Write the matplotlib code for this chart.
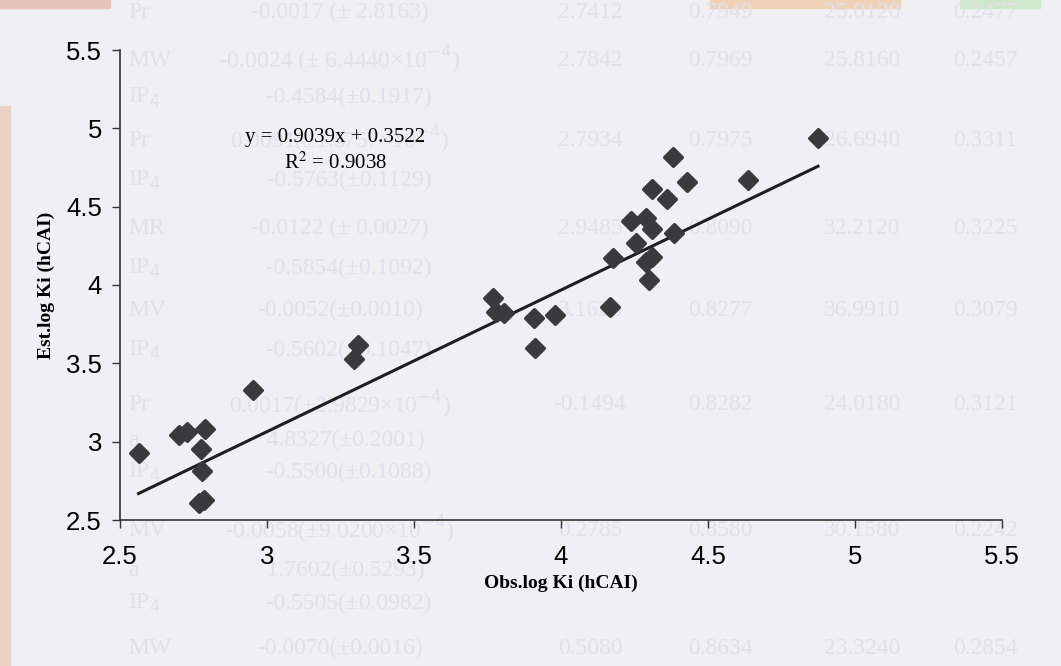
import numpy as np
import matplotlib.pyplot as plt
from matplotlib.markers import MarkerStyle

obs_logki = [2.563, 2.70, 2.728, 2.79, 2.775, 2.78, 2.77, 2.785, 2.952,
             3.31, 3.296, 3.77, 3.78, 3.806, 3.908, 3.91, 3.98,
             4.167, 4.177, 4.255, 4.238, 4.29, 4.31, 4.384, 4.29, 4.31,
             4.30, 4.31, 4.36, 4.38, 4.43, 4.636, 4.874]
est_logki = [2.93, 3.04, 3.06, 3.08, 2.95, 2.81, 2.61, 2.63, 3.33,
             3.62, 3.53, 3.92, 3.83, 3.82, 3.79, 3.60, 3.81,
             3.86, 4.17, 4.27, 4.41, 4.43, 4.36, 4.33, 4.15, 4.18,
             4.03, 4.61, 4.55, 4.82, 4.66, 4.67, 4.94]

slope = 0.9039
intercept = 0.3522
r2 = 0.9038

ticks = [2.5, 3, 3.5, 4, 4.5, 5, 5.5]
tick_labels = ["2.5", "3", "3.5", "4", "4.5", "5", "5.5"]

# faint table text showing through the page
ghost_rows = [
    ("Pr", "-0.0017 (± 2.8163)", "2.7412", "0.7949", "25.0120", "0.2477"),
    ("MW", "-0.0024 (± 6.4440×10$^{-4}$)", "2.7842", "0.7969", "25.8160", "0.2457"),
    ("IP$_4$", "   -0.4584(±0.1917)", "", "", "", ""),
    ("Pr", "0.0091(±1.5757×10$^{-4}$)", "2.7934", "0.7975", "26.6940", "0.3311"),
    ("IP$_4$", "   -0.5763(±0.1129)", "", "", "", ""),
    ("MR", "-0.0122 (± 0.0027)", "2.9485", "0.8090", "32.2120", "0.3225"),
    ("IP$_4$", "   -0.5854(±0.1092)", "", "", "", ""),
    ("MV", "-0.0052(±0.0010)", "3.1625", "0.8277", "36.9910", "0.3079"),
    ("IP$_4$", "   -0.5602(±0.1047)", "", "", "", ""),
    ("Pr", "0.0017(±2.9829×10$^{-4}$)", "-0.1494", "0.8282", "24.0180", "0.3121"),
    ("a", "  4.8327(±0.2001)", "", "", "", ""),
    ("IP$_4$", "   -0.5500(±0.1088)", "", "", "", ""),
    ("MV", "-0.0058(±9.0200×10$^{-4}$)", "0.2785", "0.8580", "30.1580", "0.2242"),
    ("a", "  1.7602(±0.5293)", "", "", "", ""),
    ("IP$_4$", "   -0.5505(±0.0982)", "", "", "", ""),
    ("MW", "-0.0070(±0.0016)", "0.5080", "0.8634", "23.3240", "0.2854"),
]
ghost_y = [12, 60, 97, 140, 180, 228, 268, 310, 350, 405, 440, 472, 530, 570, 603, 648]
ghost_x = [128, 340, 590, 720, 862, 985]

W, H = 1061, 666
bg = "#efeff4"
fig = plt.figure(figsize=(W / 100, H / 100), dpi=100, facecolor=bg)

# scan edges
fig.patches.append(plt.Rectangle((0, 0), 10 / W, 560 / H, transform=fig.transFigure,
                                 color="#ead2c6", zorder=-2))
fig.patches.append(plt.Rectangle((0, 1 - 8 / H), 110 / W, 8 / H, transform=fig.transFigure,
                                 color="#e6c4bd", zorder=-2))
fig.patches.append(plt.Rectangle((710 / W, 1 - 8 / H), 190 / W, 8 / H, transform=fig.transFigure,
                                 color="#f0d2b8", zorder=-2))
fig.patches.append(plt.Rectangle((960 / W, 1 - 8 / H), 80 / W, 8 / H, transform=fig.transFigure,
                                 color="#cfe8cc", zorder=-2))

ghost_col = "#e1e1e9"
for row, yy in zip(ghost_rows, ghost_y):
    for j, (s, xx) in enumerate(zip(row, ghost_x)):
        if not s:
            continue
        fig.text(xx / W, 1 - yy / H, s, ha="left" if j == 0 else "center", va="center",
                 family="Liberation Serif", fontsize=17, color=ghost_col, zorder=-1)

ax = fig.add_axes([120 / W, 1 - 520 / H, 882 / W, 470 / H])
ax.set_facecolor("none")

mk = MarkerStyle("D", joinstyle="round")
ax.scatter(obs_logki, est_logki, s=80, marker=mk, color="#3a3a3c",
           edgecolors="#3a3a3c", linewidths=2.5, zorder=3)

xs = np.array([min(obs_logki), max(obs_logki)])
ax.plot(xs, slope * xs + intercept, color="#1e1e1e", lw=2.2, zorder=2)

ax.set_xlim(2.5, 5.5)
ax.set_ylim(2.5, 5.5)
ax.set_xticks(ticks)
ax.set_yticks(ticks)
ax.set_xticklabels(tick_labels, family="Liberation Sans", fontsize=18.5)
ax.set_yticklabels(tick_labels, family="Liberation Sans", fontsize=18.5)
ax.tick_params(direction="out", length=6, width=1, color="#333333")
ax.tick_params(axis="x", pad=12)
ax.tick_params(axis="y", pad=7)
for side in ["top", "right"]:
    ax.spines[side].set_visible(False)
for side in ["left", "bottom"]:
    ax.spines[side].set_color("#333333")
    ax.spines[side].set_linewidth(1.2)

ax.set_xlabel("Obs.log Ki (hCAI)", family="Liberation Serif", fontweight="bold",
              fontsize=14, labelpad=4)
ax.set_ylabel("Est.log Ki (hCAI)", family="Liberation Serif", fontweight="bold",
              fontsize=14, labelpad=8)

ax.text(0.244, 0.785, f"y = {slope}x + {intercept}\nR$^{{2}}$ = {r2}",
        transform=ax.transAxes, ha="center", va="center", family="Liberation Serif",
        fontsize=15, linespacing=1.35, math_fontfamily="stix")

fig.savefig("out.png", dpi=100, facecolor=bg)
